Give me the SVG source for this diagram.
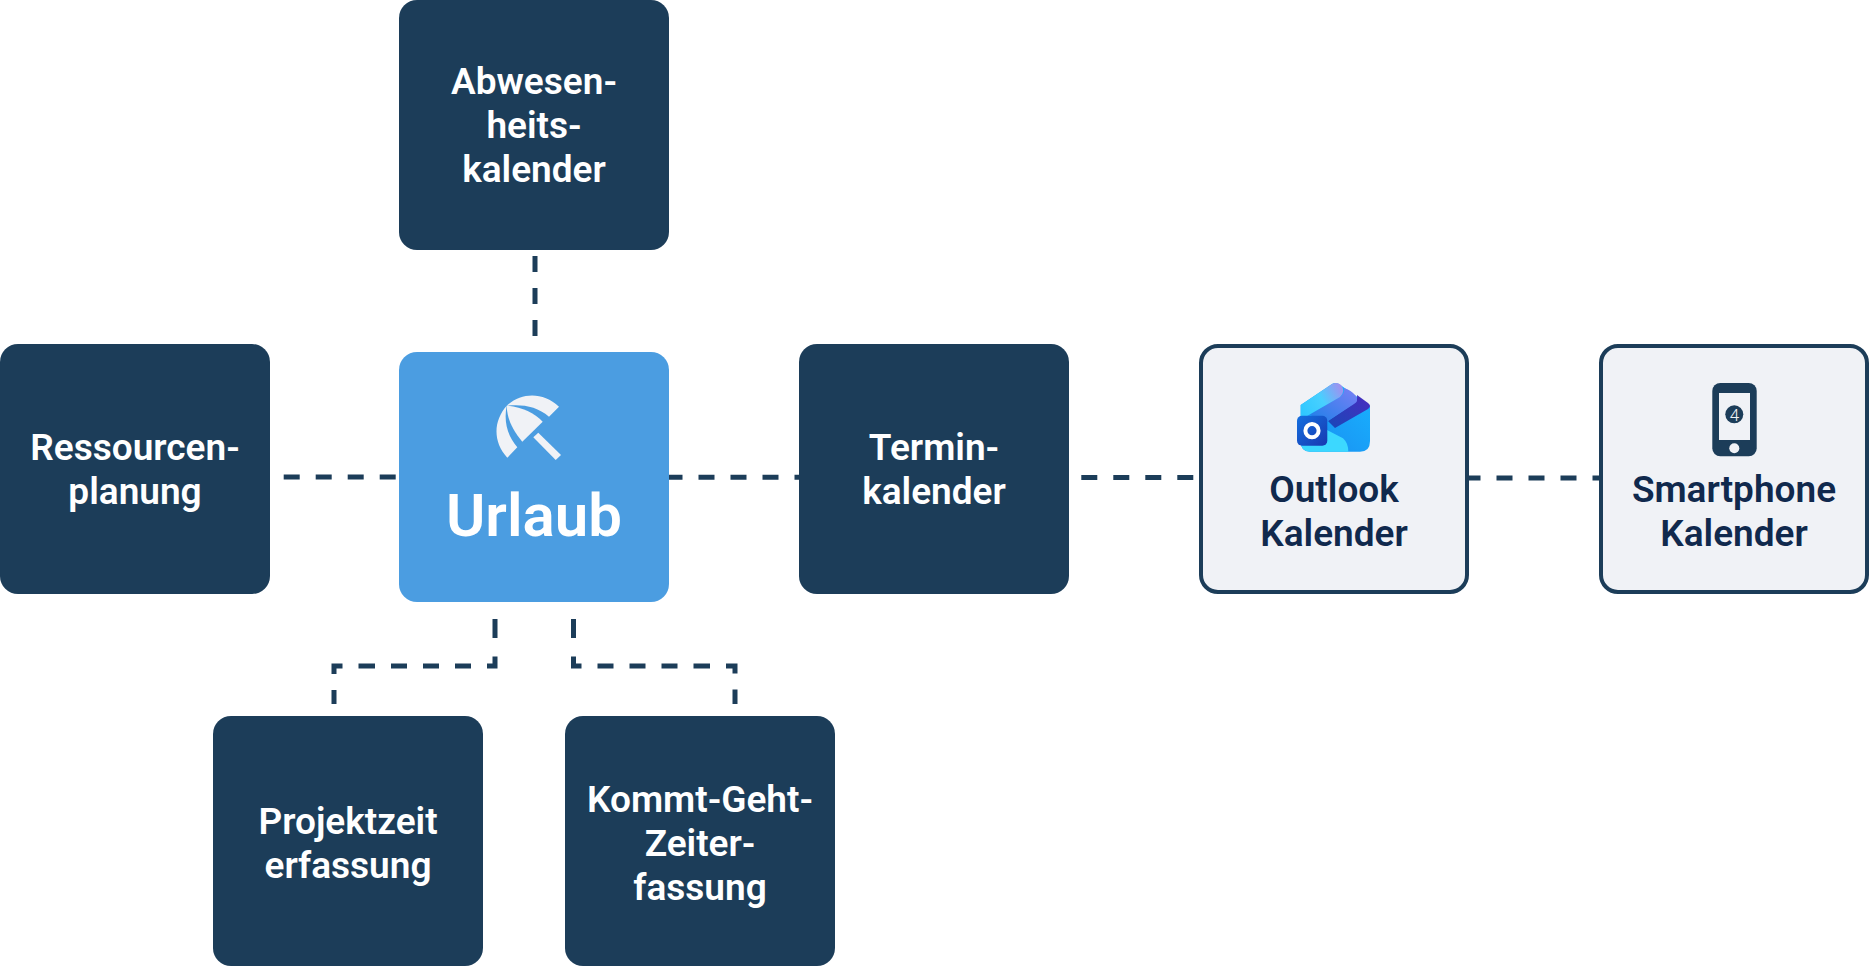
<svg xmlns="http://www.w3.org/2000/svg" width="1869" height="966" viewBox="0 0 1869 966">
<style>
.box{fill:#1c3d59}
.hub{fill:#4b9de1}
.light{fill:#f0f2f6;stroke:#1c3d59;stroke-width:4}
text{font-family:Roboto,"Liberation Sans",sans-serif;font-weight:600;text-anchor:middle}
.w{fill:#fff;font-size:37px}
.d{fill:#10294d;font-size:37px}
.dash{fill:none;stroke:#1c3d59;stroke-width:5;stroke-dasharray:16 16}
.elbow{fill:none;stroke:#1c3d59;stroke-width:5;stroke-dasharray:19 18.6 17.4 16 16 16 16 16 16 16 16.5 16 16.5 16 16.7 15 15}
</style>
<defs>
<linearGradient id="o1" x1="0" y1="1" x2="1" y2="0"><stop offset="0" stop-color="#1a8cf0"/><stop offset="1" stop-color="#18b4ff"/></linearGradient>
<linearGradient id="o2" x1="0" y1="0.7" x2="1" y2="0.2"><stop offset="0" stop-color="#30c8ff"/><stop offset="0.5" stop-color="#48d0ff"/><stop offset="1" stop-color="#a090f0"/></linearGradient>
<linearGradient id="o3" x1="0" y1="1" x2="1" y2="0"><stop offset="0" stop-color="#1a80e8"/><stop offset="1" stop-color="#7a80f5"/></linearGradient>
<linearGradient id="o4" x1="0" y1="1" x2="1" y2="0"><stop offset="0" stop-color="#1848b8"/><stop offset="1" stop-color="#4a2cc0"/></linearGradient>
<linearGradient id="o5" x1="0" y1="0" x2="1" y2="1"><stop offset="0" stop-color="#1470e0"/><stop offset="1" stop-color="#1838b0"/></linearGradient>
</defs>
<g id="connectors">
<path class="dash" d="M535 256V339"/>
<path class="dash" d="M283.700 477H399"/>
<path class="dash" d="M666.500 477.300H799"/>
<path class="dash" d="M1081.300 477.500H1199"/>
<path class="dash" d="M1464.500 478H1600"/>
<path class="elbow" d="M495 619V666H334V704"/>
<path class="elbow" d="M573.500 619V666H735V704"/>
</g>
<g id="abwesenheitskalender"><rect class="box" x="399" y="0" width="270" height="250" rx="18"/>
<text class="w" x="534" y="94">Abwesen-</text><text class="w" x="534" y="138">heits-</text><text class="w" x="534" y="182">kalender</text></g>
<g id="ressourcenplanung"><rect class="box" x="0" y="344" width="270" height="250" rx="18"/>
<text class="w" x="135" y="460">Ressourcen-</text><text class="w" x="135" y="504">planung</text></g>
<g id="urlaub"><rect class="hub" x="399" y="352" width="270" height="250" rx="18"/>
<g fill="#f0f2f6">
<path d="M538.300 432.700L561 455L555.700 460L533.300 437.300Z"/>
<path d="M506.700 405.700C522 407 534 413 542.700 421.700L522.300 441.700C513 431 507 419 506.700 405.700Z"/>
<path d="M506.700 405.700C522 392 543 392 559 406.700L549 416.700C537 406 522 404 506.700 405.700Z"/>
<path d="M506.700 405.700C494 420 492 441 507.300 457.700L517.300 447.300C506 434 504 419 506.700 405.700Z"/>
</g>
<text x="534" y="536" fill="#fff" font-size="60">Urlaub</text></g>
<g id="terminkalender"><rect class="box" x="799" y="344" width="270" height="250" rx="18"/>
<text class="w" x="934" y="460">Termin-</text><text class="w" x="934" y="504">kalender</text></g>
<g id="outlook"><rect class="light" x="1201" y="346" width="266" height="246" rx="17"/>
<g id="outlook-icon">
<path fill="url(#o1)" d="M1300.700 405L1332 384Q1335 382 1339 384L1370 406V441Q1370 451.700 1360 451.700H1310Q1300.700 451.700 1300.700 441Z"/>
<path fill="url(#o4)" d="M1328 421L1353 404Q1358 401 1357 395L1368 403Q1372 406 1368 409L1335 428Z"/>
<path fill="url(#o3)" d="M1310 414.300L1340 397Q1345 393 1344 388Q1351 390 1356 396Q1359 401 1354 404L1328 421L1322 424Z"/>
<path fill="url(#o2)" d="M1300.700 405L1332 384Q1337 381.500 1341 385Q1346 391 1340 397L1310 414.300L1300.700 420Z"/>
<path fill="#3cd8ff" d="M1300.700 422L1327 430L1343 438.300Q1348.300 443 1348.300 451.700H1310Q1300.700 451.700 1300.700 441Z"/>
<rect x="1297" y="415.700" width="30.300" height="30" rx="5" fill="url(#o5)"/>
<circle cx="1312" cy="430.700" r="6.600" fill="none" stroke="#fff" stroke-width="4"/>
</g>
<text class="d" x="1334" y="502">Outlook</text><text class="d" x="1334" y="546">Kalender</text></g>
<g id="smartphone"><rect class="light" x="1601" y="346" width="266" height="246" rx="17"/>
<g id="phone-icon">
<rect x="1712.300" y="383" width="44.400" height="73.300" rx="8" fill="#1c3d59"/>
<rect x="1719" y="393" width="31" height="47" fill="#f0f2f6"/>
<circle cx="1734.300" cy="448.300" r="5" fill="#f0f2f6"/>
<circle cx="1734.300" cy="414.300" r="9" fill="#1c3d59"/>
<text x="1734.500" y="420.500" fill="#f0f2f6" font-size="17" style="font-weight:300">4</text>
</g>
<text class="d" x="1734" y="502">Smartphone</text><text class="d" x="1734" y="546">Kalender</text></g>
<g id="projektzeit"><rect class="box" x="213" y="716" width="270" height="250" rx="18"/>
<text class="w" x="348" y="834">Projektzeit</text><text class="w" x="348" y="878">erfassung</text></g>
<g id="kommt-geht"><rect class="box" x="565" y="716" width="270" height="250" rx="18"/>
<text class="w" x="700" y="812">Kommt-Geht-</text><text class="w" x="700" y="856">Zeiter-</text><text class="w" x="700" y="900">fassung</text></g>
</svg>
